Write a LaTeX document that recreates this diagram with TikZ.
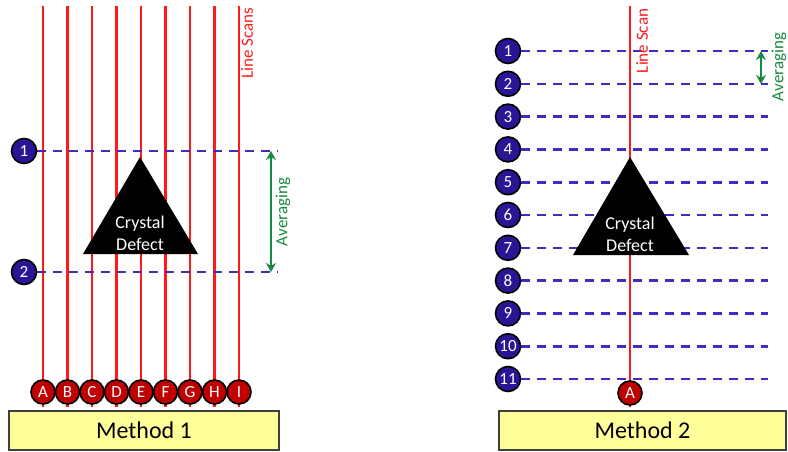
\documentclass[tikz,border=0pt]{standalone}
\usepackage{fontspec}
\setmainfont{Carlito}
\usetikzlibrary{arrows.meta,backgrounds}
\definecolor{scanred}{RGB}{255,25,25}
\definecolor{rowblue}{RGB}{62,44,190}
\definecolor{dotblue}{RGB}{40,22,150}
\definecolor{dotred}{RGB}{192,0,0}
\definecolor{avggreen}{RGB}{24,138,62}
\definecolor{boxyellow}{RGB}{255,255,153}

\begin{document}
\begin{tikzpicture}[x=1pt,y=-1pt,
    scan/.style={draw=scanred, line width=2.2pt},
    row/.style={draw=rowblue, line width=2.6pt, dash pattern=on 9pt off 7pt},
    rowdot/.style={circle, draw=black, line width=1.6pt, fill=dotblue, text=white,
        minimum size=25pt, inner sep=0pt, font=\fontsize{17}{17}\selectfont},
    scandot/.style={rowdot, fill=dotred, minimum size=24pt},
    defect/.style={text=white, align=center, font=\fontsize{18}{22}\selectfont},
    avg/.style={draw=avggreen, line width=2.2pt,
        {Stealth[length=9pt,width=10pt]}-{Stealth[length=9pt,width=10pt]}},
    method/.style={draw=black!75, line width=1.4pt, fill=boxyellow,
        minimum height=39pt, font=\fontsize{24}{24}\selectfont},
    sidelabel/.style={rotate=90, font=\fontsize{17}{17}\selectfont}]
    \useasboundingbox (0,0) rectangle (788,451);

    % Method 1: many line scans, two rows
    \foreach \l [count=\i from 0] in {A,...,I} {
        \node[scandot] (l\l) at ({43+24.5*\i},392) {\l};
        \coordinate (ltop\l) at ({43+24.5*\i},6);
        \coordinate (lbot\l) at ({43+24.5*\i},407);
    }
    \node[rowdot] (l1) at (24,151) {1};
    \node[rowdot] (l2) at (24,272) {2};
    \coordinate (l1end) at (278,151);
    \coordinate (l2end) at (278,272);
    \begin{scope}[on background layer]
        \foreach \l in {A,...,I}
            \draw[scan] (ltop\l) -- (lbot\l);
        \draw[row] (l1) -- (l1end);
        \draw[row] (l2) -- (l2end);
    \end{scope}
    \fill[black] (140,157) -- (198,254) -- (83,254) -- cycle;
    \node[defect] (ldefect) at (140,233) {Crystal\\Defect};
    \coordinate (lavgtop) at (271,151);
    \coordinate (lavgbot) at (271,272);
    \draw[avg] (lavgtop) -- (lavgbot);
    \node[sidelabel, text=avggreen] (lavg) at (283,212) {Averaging};
    \node[sidelabel, text=scanred] (lscans) at (247,43) {Line Scans};
    \node[method, minimum width=270pt] (method1) at (144,430.5) {Method 1};

    % Method 2: one line scan, eleven rows
    \node[scandot] (rA) at (630,393) {A};
    \coordinate (rtop) at (630,6);
    \coordinate (rbot) at (630,407);
    \foreach \n in {1,...,11} {
        \node[rowdot] (r\n) at (508,{51+32.8*(\n-1)}) {\n};
        \coordinate (r\n end) at (768,{51+32.8*(\n-1)});
    }
    \begin{scope}[on background layer]
        \draw[scan] (rtop) -- (rbot);
        \foreach \n in {1,...,11}
            \draw[row] (r\n) -- (r\n end);
    \end{scope}
    \fill[black] (630,157) -- (689,255) -- (573,255) -- cycle;
    \node[defect] (rdefect) at (630,234) {Crystal\\Defect};
    \coordinate (ravgtop) at (761,51);
    \coordinate (ravgbot) at (761,84);
    \draw[avg] (ravgtop) -- (ravgbot);
    \node[sidelabel, text=avggreen] (ravg) at (779,67) {Averaging};
    \node[sidelabel, text=scanred] (rscan) at (642,41) {Line Scan};
    \node[method, minimum width=287pt] (method2) at (642.5,430.5) {Method 2};
\end{tikzpicture}
\end{document}
